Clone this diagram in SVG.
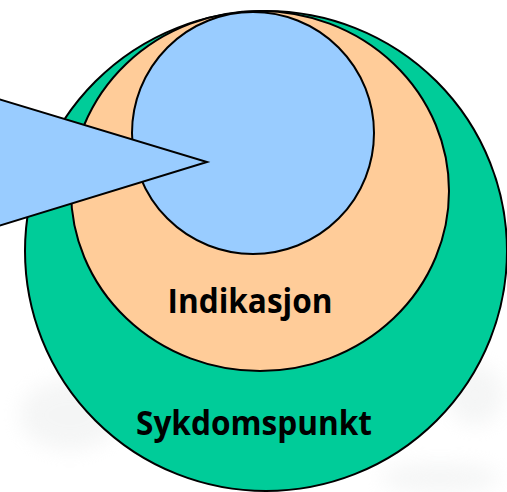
<svg xmlns="http://www.w3.org/2000/svg" width="507" height="492" viewBox="0 0 507 492">
  <defs>
    <style>
      .shape { stroke: #000; stroke-width: 2; }
      .label { font-family: "Open Sans", "Noto Sans", "Liberation Sans", sans-serif; font-weight: bold; font-size: 34px; fill: #000; text-anchor: middle; }
    </style>
    <filter id="soft" x="-50%" y="-50%" width="200%" height="200%">
      <feGaussianBlur stdDeviation="10"/>
    </filter>
  </defs>
  <rect width="507" height="492" fill="#fff"/>
  <g id="background" filter="url(#soft)" fill="#e8eaea" opacity="0.45">
    <ellipse cx="70" cy="415" rx="50" ry="35"/>
    <ellipse cx="475" cy="395" rx="28" ry="30"/>
    <ellipse cx="440" cy="478" rx="60" ry="14"/>
  </g>
  <g id="sykdomspunkt">
    <ellipse class="shape" cx="266" cy="251" rx="241" ry="240" fill="#00CC99"/>
    <text class="label" x="254" y="435" textLength="236" lengthAdjust="spacingAndGlyphs">Sykdomspunkt</text>
  </g>
  <g id="indikasjon">
    <ellipse class="shape" cx="260" cy="191" rx="189" ry="180" fill="#FFCC99"/>
    <text class="label" x="250" y="313" textLength="165" lengthAdjust="spacingAndGlyphs">Indikasjon</text>
  </g>
  <g id="inner">
    <circle class="shape" cx="253" cy="133" r="121" fill="#99CCFF"/>
  </g>
  <g id="connectors">
    <polygon id="callout" class="shape" points="-5,98 207,162 -5,227" fill="#99CCFF" stroke-linejoin="miter"/>
  </g>
</svg>
